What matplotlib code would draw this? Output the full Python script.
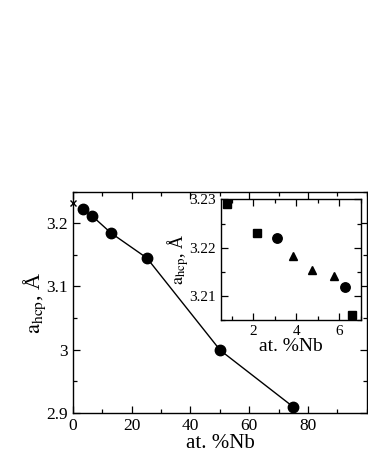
import matplotlib
matplotlib.use("Agg")
import matplotlib.pyplot as plt
from matplotlib.ticker import MultipleLocator, FormatStrFormatter

plt.rcParams['font.family'] = ['Liberation Serif', 'DejaVu Serif']
plt.rcParams['mathtext.fontset'] = 'stix'

# main panel data
nb_main = [3.3, 6.5, 12.9, 25.2, 50.1, 75.0]
a_main = [3.222, 3.212, 3.185, 3.145, 2.999, 2.909]
nb_ti = [0.0]
a_ti = [3.232]

# inset data
nb_sq = [0.81, 2.2, 6.58]
a_sq = [3.229, 3.2231, 3.2061]
nb_ci = [3.12, 6.24]
a_ci = [3.222, 3.2119]
nb_tr = [3.86, 4.71, 5.73]
a_tr = [3.2182, 3.2153, 3.2142]

fig = plt.figure(figsize=(3.68, 4.76), dpi=100)

def style_ticks(ax, size):
    ax.tick_params(which='both', direction='in', top=True, right=True, labelsize=size, width=0.9)
    ax.tick_params(which='major', length=5)
    ax.tick_params(which='minor', length=3)
    for s in ax.spines.values():
        s.set_linewidth(1.0)

ax = fig.add_axes([0.198, 0.133, 0.799, 0.464])
ax.plot(nb_main, a_main, '-o', color='black', lw=1.0, ms=7.5)
ax.plot(nb_ti, a_ti, 'x', color='black', ms=5, mew=1.0, clip_on=False)
ax.set_xlim(0, 100)
ax.set_ylim(2.9, 3.25)
ax.xaxis.set_major_locator(MultipleLocator(20))
ax.xaxis.set_minor_locator(MultipleLocator(10))
ax.yaxis.set_major_locator(MultipleLocator(0.1))
ax.yaxis.set_minor_locator(MultipleLocator(0.05))
ax.yaxis.set_major_formatter(FormatStrFormatter('%g'))
ax.set_xticks([0, 20, 40, 60, 80])
style_ticks(ax, 12.5)
ax.set_xlabel('at. %Nb', fontsize=15, labelpad=0)
ax.set_ylabel(r'$\mathrm{a_{hcp}}$, Å', fontsize=16, labelpad=-1)

ins = fig.add_axes([0.600, 0.328, 0.381, 0.253])
ins.plot(nb_sq, a_sq, 's', color='black', ms=5.5, clip_on=False)
ins.plot(nb_ci, a_ci, 'o', color='black', ms=6.8)
ins.plot(nb_tr, a_tr, '^', color='black', ms=6.3)
ins.set_xlim(0.5, 7)
ins.set_ylim(3.205, 3.23)
ins.xaxis.set_major_locator(MultipleLocator(2))
ins.xaxis.set_minor_locator(MultipleLocator(1))
ins.yaxis.set_major_locator(MultipleLocator(0.01))
ins.yaxis.set_minor_locator(MultipleLocator(0.005))
ins.yaxis.set_major_formatter(FormatStrFormatter('%g'))
style_ticks(ins, 11)
ins.set_xlabel('at. %Nb', fontsize=14, labelpad=0)
ins.set_ylabel(r'$\mathrm{a_{hcp}}$, Å', fontsize=13, labelpad=-1)

fig.savefig('out.png', dpi=100)
